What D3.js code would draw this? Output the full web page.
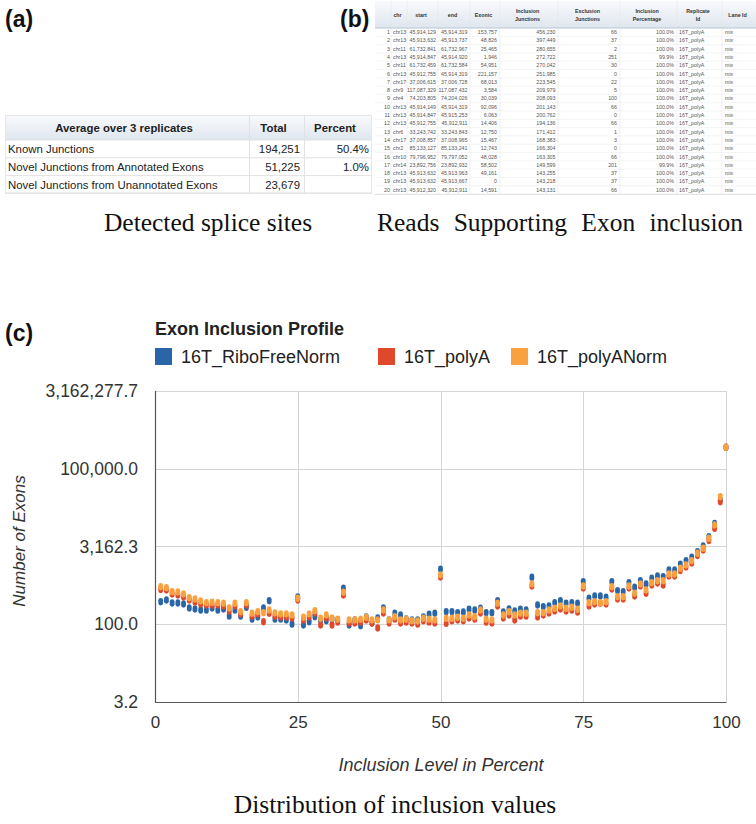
<!DOCTYPE html>
<html><head><meta charset="utf-8">
<script src="https://cdn.jsdelivr.net/npm/d3@7"></script>
<style>body{margin:0;background:#fff} svg{display:block}</style>
</head><body>
<svg id="c" width="756" height="824"></svg>
<script>
// ---------- DATA ----------
// Panel (a)
const aHeaders = ["Average over 3 replicates", "Total", "Percent"];
const aRowLabels = ["Known Junctions", "Novel Junctions from Annotated Exons", "Novel Junctions from Unannotated Exons"];
const aTotals = [194251, 51225, 23679];
const aPercents = ["50.4%", "1.0%", ""];

// Panel (b)
const bHeaders = ["", "chr", "start", "end", "Exonic", "Inclusion\nJunctions", "Exclusion\nJunctions", "Inclusion\nPercentage", "Replicate\nId", "Lane Id"];
const bChr = ["chr13","chr13","chr11","chr13","chr11","chr13","chr17","chr9","chr4","chr13","chr13","chr13","chr6","chr17","chr2","chr10","chr14","chr13","chr13","chr13"];
const bStart = [45914129,45913632,61732841,45914847,61732459,45912755,37006615,117087329,74203805,45914149,45914847,45912755,33243742,37008857,85133127,79796952,23892756,45913632,45913632,45912320];
const bEnd = [45914319,45913737,61732967,45914920,61732584,45914319,37006728,117087432,74204026,45914319,45915253,45912911,33243843,37008965,85133241,79797052,23892932,45913963,45913667,45912911];
const bExonic = [153757,48826,25465,1946,54951,221157,68013,3584,30039,92096,6063,14406,12750,15467,12743,48028,58502,49161,0,14591];
const bInclJ = [456230,397449,280655,272722,270042,251985,223545,209979,208093,201143,200762,194136,171412,168383,166304,163305,149599,143255,143218,143131];
const bExclJ = [66,37,2,251,30,0,22,5,100,66,0,66,1,3,0,66,201,37,37,66];
const bInclPct = ["100.0%","100.0%","100.0%","99.9%","100.0%","100.0%","100.0%","100.0%","100.0%","100.0%","100.0%","100.0%","100.0%","100.0%","100.0%","100.0%","99.9%","100.0%","100.0%","100.0%"];
const bReplicate = ["16T_polyA","16T_polyA","16T_polyA","16T_polyA","16T_polyA","16T_polyA","16T_polyA","16T_polyA","16T_polyA","16T_polyA","16T_polyA","16T_polyA","16T_polyA","16T_polyA","16T_polyA","16T_polyA","16T_polyA","16T_polyA","16T_polyA","16T_polyA"];
const bLane = ["mix","mix","mix","mix","mix","mix","mix","mix","mix","mix","mix","mix","mix","mix","mix","mix","mix","mix","mix","mix"];

// Panel (c)
const seriesNames = ["16T_RiboFreeNorm", "16T_polyA", "16T_polyANorm"];
const inclusionLevel = [1,2,3,4,5,6,7,8,9,10,11,12,13,14,15,16,17,18,19,20,21,22,23,24,25,26,27,28,29,30,31,32,33,34,35,36,37,38,39,40,41,42,43,44,45,46,47,48,49,50,51,52,53,54,55,56,57,58,59,60,61,62,63,64,65,66,67,68,69,70,71,72,73,74,75,76,77,78,79,80,81,82,83,84,85,86,87,88,89,90,91,92,93,94,95,96,97,98,99,100];
const riboFreeNorm = [272,294,257,257,246,206,197,188,188,206,
  188,197,144,188,144,212,126,138,206,285,
  126,126,121,101,336,97,112,140,121,117,
  126,121,494,97,121,94,138,106,132,206,
  121,163,151,126,121,121,138,156,163,1150,
  175,175,167,172,194,188,203,167,167,285,
  172,197,180,194,188,805,235,218,225,260,
  285,254,260,254,662,317,351,351,331,662,
  444,425,634,516,692,598,770,853,827,1114,
  1114,1435,1683,1957,2510,3235,4890,8790,24970,259600];
const polyA = [468,458,384,367,336,294,269,246,235,235,
  235,225,180,225,158,235,144,158,112,163,
  144,138,138,132,294,121,138,165,97,132,
  97,110,367,106,106,110,121,106,85,165,
  106,126,106,110,106,101,117,110,106,816,
  104,117,121,117,132,126,165,110,106,225,
  132,151,121,144,144,547,138,151,165,180,
  197,180,188,172,500,225,246,254,246,479,
  307,307,500,351,547,396,572,625,572,853,
  853,1089,1272,1520,2121,2707,4130,7100,23100,259600];
const polyANorm = [530,507,425,419,384,325,307,281,260,265,
  260,254,206,254,175,260,163,175,167,188,
  165,158,158,151,317,136,158,183,130,151,
  130,125,414,121,121,125,136,121,121,188,
  121,140,121,125,117,116,130,125,121,892,
  130,130,136,130,151,140,188,125,121,254,
  151,175,151,163,163,598,167,167,188,203,
  225,203,212,194,547,260,272,260,272,530,
  340,340,547,396,598,458,634,692,692,932,
  932,1200,1390,1683,2338,2920,4550,8220,28900,259600];
const xTickValues = [0, 25, 50, 75, 100];
const yTickValues = [3.16228, 100, 3162.28, 100000, 3162277.66];

// ---------- STYLE ----------
const SANS = "'Liberation Sans', Arial, Helvetica, sans-serif";
const SERIF = "'Liberation Serif', 'Times New Roman', Times, serif";
const seriesColors = ["#2a66a7", "#e0482b", "#f9a03f"];

const svg = d3.select("#c");
const defs = svg.append("defs");
const grad = defs.append("linearGradient").attr("id","hdr").attr("x1",0).attr("x2",0).attr("y1",0).attr("y2",1);
grad.append("stop").attr("offset","0%").attr("stop-color","#f9fafc");
grad.append("stop").attr("offset","100%").attr("stop-color","#dfe6ee");

// panel labels
[["(a)",5,27],["(b)",340,27],["(c)",5,341]].forEach(([t,x,y]) => {
  svg.append("text").attr("x",x).attr("y",y).attr("font-family",SANS)
    .attr("font-weight","bold").attr("font-size",23).attr("fill","#111").text(t);
});

// ---------- PANEL (a) ----------
const aCols = [5, 249, 304, 372];
const aHeadTop = 115, aHeadH = 25, aRowH = 17.8;
const gA = svg.append("g");
gA.append("rect").attr("x",aCols[0]).attr("y",aHeadTop).attr("width",aCols[3]-aCols[0]).attr("height",aHeadH)
  .attr("fill","url(#hdr)");
aRowLabels.forEach((r,i) => {
  const y0 = aHeadTop + aHeadH + i*aRowH;
  gA.append("line").attr("x1",aCols[0]).attr("x2",aCols[3]).attr("y1",y0+aRowH).attr("y2",y0+aRowH)
    .attr("stroke","#e2e2e2");
});
gA.append("rect").attr("x",aCols[0]+0.5).attr("y",aHeadTop+0.5).attr("width",aCols[3]-aCols[0]-1)
  .attr("height",aHeadH + aRowLabels.length*aRowH - 1).attr("fill","none").attr("stroke","#e6e6e6");
[aCols[1], aCols[2]].forEach(x => {
  gA.append("line").attr("x1",x+0.5).attr("x2",x+0.5).attr("y1",aHeadTop).attr("y2",aHeadTop+aHeadH+aRowLabels.length*aRowH)
    .attr("stroke","#e2e2e2");
});
gA.append("line").attr("x1",aCols[0]).attr("x2",aCols[3]).attr("y1",aHeadTop+aHeadH).attr("y2",aHeadTop+aHeadH).attr("stroke","#e0e0e0");
aHeaders.forEach((h,i) => {
  gA.append("text").attr("x",(aCols[i]+aCols[i+1])/2 - 3).attr("y",aHeadTop+aHeadH/2+4)
    .attr("text-anchor","middle").attr("font-family",SANS).attr("font-weight","bold").attr("font-size",11.4)
    .attr("fill","#222").text(h);
});
const fmtInt = d3.format(",");
aRowLabels.forEach((r,i) => {
  const yc = aHeadTop + aHeadH + i*aRowH + aRowH/2 + 4;
  gA.append("text").attr("x",aCols[0]+3).attr("y",yc).attr("font-family",SANS).attr("font-size",11.4).attr("fill","#222").text(r);
  gA.append("text").attr("x",aCols[2]-4).attr("y",yc).attr("text-anchor","end").attr("font-family",SANS).attr("font-size",11.4).attr("fill","#222").text(fmtInt(aTotals[i]));
  gA.append("text").attr("x",aCols[3]-3).attr("y",yc).attr("text-anchor","end").attr("font-family",SANS).attr("font-size",11.4).attr("fill","#222").text(aPercents[i]);
});

// ---------- PANEL (b) ----------
const bCols = [375, 391, 407, 438, 470, 500, 558, 620, 677, 722, 756];
const bHeadTop = 1, bHeadBot = 28, bRowH = 8.3;
const gB = svg.append("g");
const nB = bChr.length;
gB.append("rect").attr("x",bCols[0]).attr("y",bHeadTop).attr("width",bCols[10]-bCols[0]).attr("height",bHeadBot-bHeadTop).attr("fill","url(#hdr)");
for (let i=0;i<nB;i++){
  const y0 = bHeadBot + i*bRowH;
  gB.append("line").attr("x1",bCols[0]).attr("x2",bCols[10]).attr("y1",y0+bRowH).attr("y2",y0+bRowH).attr("stroke","#ececec").attr("stroke-width",0.6);
}
bCols.slice(1,10).forEach(x => {
  gB.append("line").attr("x1",x).attr("x2",x).attr("y1",bHeadTop).attr("y2",bHeadBot+nB*bRowH).attr("stroke","#e6e6e6").attr("stroke-width",0.6);
});
gB.append("line").attr("x1",bCols[0]).attr("x2",bCols[10]).attr("y1",bHeadBot).attr("y2",bHeadBot).attr("stroke","#b9c6d4").attr("stroke-width",1);
gB.append("line").attr("x1",bCols[0]).attr("x2",bCols[10]).attr("y1",bHeadBot+nB*bRowH+0.5).attr("y2",bHeadBot+nB*bRowH+0.5).attr("stroke","#dddddd").attr("stroke-width",0.8);
bHeaders.forEach((h,i) => {
  const lines = h.split("\n");
  const cx = (bCols[i]+bCols[i+1])/2 - 1.5;
  lines.forEach((ln,k) => {
    const yc = lines.length === 1 ? 15 : (k===0 ? 11.5 : 19.5);
    gB.append("text").attr("x",cx).attr("y",yc+1.8).attr("text-anchor","middle").attr("font-family",SANS)
      .attr("font-weight","bold").attr("font-size",5.3).attr("fill","#333").text(ln);
  });
});
const bCell = (x, y, t, anchor) => gB.append("text").attr("x",x).attr("y",y).attr("text-anchor",anchor)
  .attr("font-family",SANS).attr("font-size",5.3).attr("fill","#555").text(t);
for (let i=0;i<nB;i++){
  const yb = bHeadBot + i*bRowH + bRowH/2 + 1.9;
  bCell(390, yb, String(i+1), "end");
  bCell(393, yb, bChr[i], "start");
  bCell(436, yb, fmtInt(bStart[i]), "end");
  bCell(467.5, yb, fmtInt(bEnd[i]), "end");
  bCell(497, yb, fmtInt(bExonic[i]), "end");
  bCell(555.5, yb, fmtInt(bInclJ[i]), "end");
  bCell(617, yb, fmtInt(bExclJ[i]), "end");
  bCell(674, yb, bInclPct[i], "end");
  bCell(679, yb, bReplicate[i], "start");
  bCell(725, yb, bLane[i], "start");
}

// captions
svg.append("text").attr("x",208).attr("y",231).attr("text-anchor","middle").attr("font-family",SERIF)
  .attr("font-size",25.5).attr("fill","#111").text("Detected splice sites");
const cap2 = svg.append("text").attr("x",377).attr("y",231).attr("font-family",SERIF)
  .attr("font-size",25.5).attr("fill","#111").text("Reads Supporting Exon inclusion");
const w2 = cap2.node().getComputedTextLength();
cap2.attr("word-spacing", Math.max(0,(366 - w2)/3));
svg.append("text").attr("x",395).attr("y",813).attr("text-anchor","middle").attr("font-family",SERIF)
  .attr("font-size",25.5).attr("fill","#111").text("Distribution of inclusion values");

// ---------- PANEL (c) ----------
const plot = {left:155, right:726, top:391, bottom:702};
const x = d3.scaleLinear().domain([0,100]).range([plot.left, plot.right]);
const y = d3.scaleLog().domain([yTickValues[0], yTickValues[4]]).range([plot.bottom, plot.top]);

svg.append("text").attr("x",155).attr("y",334.5).attr("font-family",SANS).attr("font-weight","bold")
  .attr("font-size",18).attr("fill","#222").text("Exon Inclusion Profile");
const legX = [155, 378, 511];
seriesNames.forEach((n,i) => {
  svg.append("rect").attr("x",legX[i]).attr("y",348).attr("width",17).attr("height",17).attr("fill",seriesColors[i]);
  svg.append("text").attr("x",legX[i]+26).attr("y",363).attr("font-family",SANS).attr("font-size",18).attr("fill","#222").text(n);
});

// grid
const gC = svg.append("g");
gC.append("g").selectAll("line").data(yTickValues).join("line")
  .attr("x1",plot.left).attr("x2",plot.right).attr("y1",d=>Math.round(y(d))+0.5).attr("y2",d=>Math.round(y(d))+0.5)
  .attr("stroke","#d4d4d4").attr("stroke-width",1);
gC.append("g").selectAll("line").data(xTickValues).join("line")
  .attr("x1",d=>Math.round(x(d))+0.5).attr("x2",d=>Math.round(x(d))+0.5).attr("y1",plot.top).attr("y2",plot.bottom)
  .attr("stroke","#d4d4d4").attr("stroke-width",1);
// axes lines
gC.append("line").attr("x1",plot.left+0.5).attr("x2",plot.left+0.5).attr("y1",plot.top).attr("y2",plot.bottom+0.5).attr("stroke","#555").attr("stroke-width",1.2);
gC.append("line").attr("x1",plot.left).attr("x2",plot.right+0.5).attr("y1",plot.bottom+0.5).attr("y2",plot.bottom+0.5).attr("stroke","#555").attr("stroke-width",1.2);

// tick labels via axes
const fmtY = d3.format(",.1f");
const yAxis = d3.axisLeft(y).tickValues(yTickValues).tickFormat(fmtY).tickSize(0).tickPadding(17);
const ya = gC.append("g").attr("transform",`translate(${plot.left},0)`).call(yAxis);
ya.select(".domain").remove();
ya.selectAll("text").attr("font-family",SANS).attr("font-size",17.5).attr("fill","#333");
const xAxis = d3.axisBottom(x).tickValues(xTickValues).tickFormat(d3.format("d")).tickSize(0).tickPadding(14);
const xa = gC.append("g").attr("transform",`translate(0,${plot.bottom})`).call(xAxis);
xa.select(".domain").remove();
xa.selectAll("text").attr("font-family",SANS).attr("font-size",17).attr("fill","#333");

svg.append("text").attr("transform",`translate(25,541) rotate(-90)`).attr("text-anchor","middle")
  .attr("font-family",SANS).attr("font-style","italic").attr("font-size",17).attr("fill","#333").text("Number of Exons");
svg.append("text").attr("x",441).attr("y",771).attr("text-anchor","middle")
  .attr("font-family",SANS).attr("font-style","italic").attr("font-size",18).attr("fill","#333").text("Inclusion Level in Percent");

// points (capsule markers)
const seriesValues = [riboFreeNorm, polyA, polyANorm];
const mw = 4.8, mh = 7.5;
seriesValues.forEach((vals,si) => {
  gC.append("g").selectAll("rect").data(inclusionLevel.map((p,i)=>({p, v: vals[i]}))).join("rect")
    .attr("x", d => x(d.p) - mw/2).attr("y", d => y(d.v) - mh/2)
    .attr("width", mw).attr("height", mh).attr("rx", mw/2).attr("ry", mw/2)
    .attr("fill", seriesColors[si]);
});
</script>
</body></html>
